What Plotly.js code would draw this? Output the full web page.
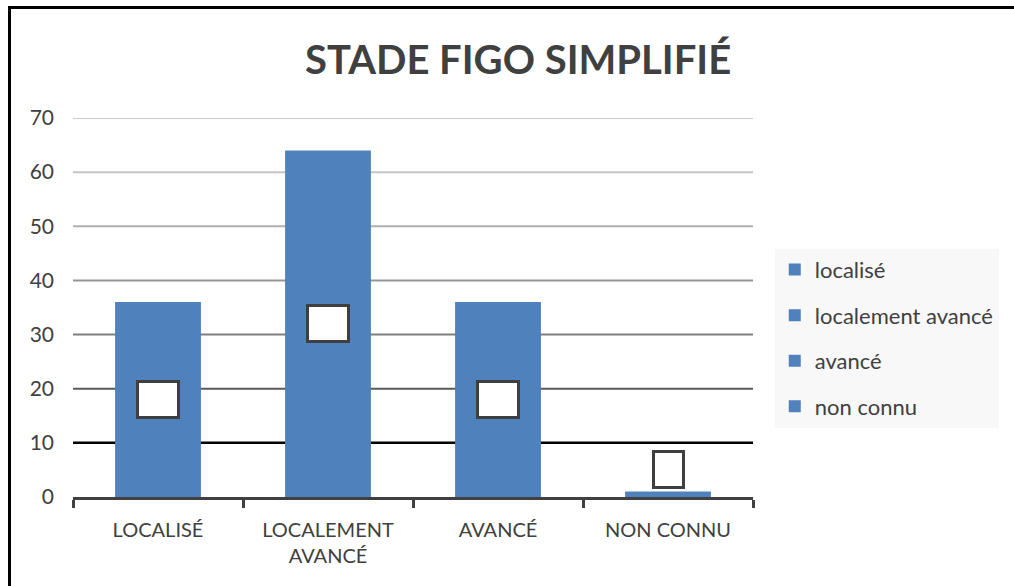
<!DOCTYPE html>
<html>
<head>
<meta charset="utf-8">
<script src="https://cdn.plot.ly/plotly-3.0.1.min.js"></script>
<style>
  html, body { margin: 0; padding: 0; background: #ffffff; }
  #wrap { position: relative; width: 1014px; height: 586px; overflow: hidden; }
  #chart { position: absolute; left: 0; top: 0; width: 1014px; height: 586px; }
  #frame { position: absolute; left: 8px; top: 6px; right: -10px; bottom: -10px;
           border-top: 3px solid #000; border-left: 3px solid #000; pointer-events: none; }
</style>
</head>
<body>
<div id="wrap">
  <div id="chart"></div>
  <div id="frame"></div>
</div>
<script>
// ---- data ----
const categories = ["LOCALISÉ", "LOCALEMENT<br>AVANCÉ", "AVANCÉ", "NON CONNU"];
const seriesNames = ["localisé", "localement avancé", "avancé", "non connu"];
const values = [36, 64, 36, 1];
const yTicks = [0, 10, 20, 30, 40, 50, 60, 70];

// ---- styles ----
const barColor = "#4F81BD";
const textColor = "#404040";
const gridColors = { 10: "#000000", 20: "#595959", 30: "#7f7f7f", 40: "#969696", 50: "#afafaf", 60: "#c4c4c4", 70: "#cccccc" };
const FONT = "Lato, 'Open Sans', sans-serif";

const traces = categories.map((c, i) => ({
  type: "bar",
  x: [c],
  y: [values[i]],
  name: seriesNames[i],
  legendgroup: "g" + i,
  marker: { color: barColor },
  width: 0.505,
  hoverinfo: "x+y"
}));

const shapes = yTicks.filter(t => t > 0).map(t => ({
  type: "line", xref: "paper", yref: "y",
  x0: 0, x1: 1, y0: t, y1: t,
  line: { color: gridColors[t], width: t === 10 ? 2.5 : 2 },
  layer: "below"
}));

const annotations = categories.map((c, i) => {
  const small = values[i] < 5;
  const len = String(values[i]).length;
  return {
    x: c, y: small ? values[i] : values[i] / 2,
    xref: "x", yref: "y",
    text: "\u00a0",
    showarrow: false,
    yanchor: small ? "bottom" : "middle",
    yshift: small ? 3 : 0,
    bgcolor: "#ffffff",
    bordercolor: "#3f3f3f",
    borderwidth: 3,
    borderpad: 0,
    width: 16 + 11 * len,
    height: 33
  };
});

const layout = {
  width: 1014, height: 586,
  margin: { l: 73, r: 261, t: 118, b: 89 },
  paper_bgcolor: "#ffffff",
  plot_bgcolor: "#ffffff",
  barmode: "overlay",
  showlegend: true,
  title: {
    text: "<b>STADE FIGO SIMPLIFIÉ</b>",
    font: { family: FONT, size: 40, color: textColor },
    x: 0.511, xanchor: "center",
    y: 0.897, yanchor: "middle"
  },
  font: { family: FONT, color: textColor },
  xaxis: {
    type: "category",
    categoryorder: "array", categoryarray: categories,
    range: [-0.5, 3.5],
    showgrid: false,
    showline: true, linecolor: "#404040", linewidth: 3,
    ticks: "outside", tickson: "boundaries", ticklen: 8, tickwidth: 3, tickcolor: "#404040",
    ticklabelstandoff: 13,
    tickfont: { family: FONT, size: 20, color: textColor },
    fixedrange: true
  },
  yaxis: {
    range: [0, 70],
    tickvals: yTicks,
    showgrid: false, zeroline: false, showline: false,
    ticks: "",
    ticklabelstandoff: 18,
    tickfont: { family: FONT, size: 21, color: textColor },
    fixedrange: true
  },
  legend: {
    x: 1.032, xanchor: "left",
    y: 0.655, yanchor: "top",
    bgcolor: "#f8f8f8",
    font: { family: FONT, size: 22, color: textColor },
    tracegroupgap: 14,
    itemclick: false, itemdoubleclick: false
  },
  shapes: shapes,
  annotations: annotations
};

Plotly.newPlot("chart", traces, layout, { displayModeBar: false, staticPlot: true });
</script>
</body>
</html>
